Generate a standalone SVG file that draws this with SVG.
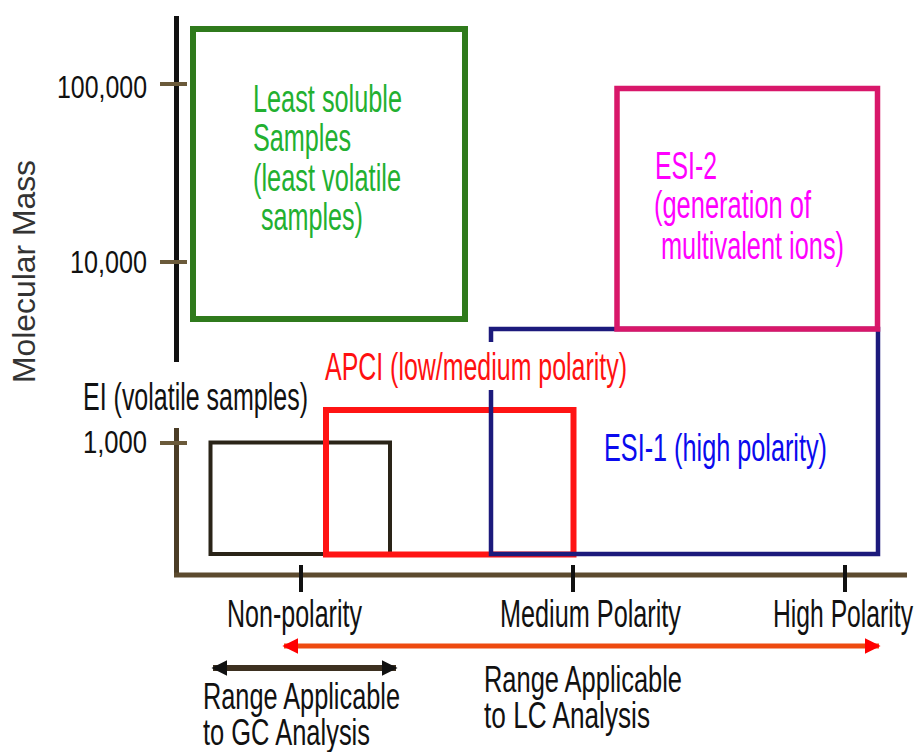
<svg xmlns="http://www.w3.org/2000/svg" width="920" height="752" viewBox="0 0 920 752">
<defs>
<style>
text{font-family:"Liberation Sans",Arial,sans-serif;font-size:38px}
.lbl{fill:#111}
.rng{font-size:36px;fill:#111}
.ax{font-size:31px;fill:#111}
.g{fill:#22b030}
.m{fill:#ff00ff}
.b{fill:#0a0aee}
.r{fill:#ff1010}
.box{fill:none}
</style>
<marker id="ahR" viewBox="0 0 10 10" refX="9" refY="5" markerWidth="3.2" markerHeight="3.6" orient="auto-start-reverse" markerUnits="strokeWidth">
<path d="M0,0 L10,5 L0,10 Z" fill="#ff0000"/>
</marker>
<marker id="ahK" viewBox="0 0 10 10" refX="9" refY="5" markerWidth="2.6" markerHeight="3" orient="auto-start-reverse" markerUnits="strokeWidth">
<path d="M0,0 L10,5 L0,10 Z" fill="#111"/>
</marker>
</defs>
<rect width="920" height="752" fill="#fff"/>

<g id="axes">
<line x1="176.5" y1="16" x2="176.5" y2="362" stroke="#111" stroke-width="5"/>
<line x1="176.5" y1="428" x2="176.5" y2="577" stroke="#4a3c26" stroke-width="5"/>
<line x1="174" y1="575" x2="907" y2="575" stroke="#5c4a2e" stroke-width="5"/>
<g stroke="#6b5a3a" stroke-width="4">
<line x1="160" y1="84" x2="187" y2="84"/>
<line x1="160" y1="262" x2="187" y2="262"/>
<line x1="160" y1="443" x2="187" y2="443"/>
</g>
<g stroke="#111" stroke-width="4">
<line x1="301" y1="565" x2="301" y2="592"/>
<line x1="573" y1="565" x2="573" y2="592"/>
<line x1="845" y1="565" x2="845" y2="592"/>
</g>
<text class="ax" x="57" y="98" textLength="90" lengthAdjust="spacingAndGlyphs">100,000</text>
<text class="ax" x="70" y="273" textLength="77" lengthAdjust="spacingAndGlyphs">10,000</text>
<text class="ax" x="83" y="453" textLength="64" lengthAdjust="spacingAndGlyphs">1,000</text>
<text x="35" y="383" transform="rotate(-90 35 383)" style="font-size:32px;fill:#333" textLength="223" lengthAdjust="spacingAndGlyphs">Molecular Mass</text>
<text class="lbl" x="227" y="627" textLength="135" lengthAdjust="spacingAndGlyphs">Non-polarity</text>
<text class="lbl" x="500" y="627" textLength="181" lengthAdjust="spacingAndGlyphs">Medium Polarity</text>
<text class="lbl" x="773" y="627" textLength="140" lengthAdjust="spacingAndGlyphs">High Polarity</text>
</g>

<g id="gc-box">
<rect class="box" x="193" y="29" width="272" height="290" stroke="#2f7a1c" stroke-width="6"/>
<text class="g" x="253" y="112" textLength="149" lengthAdjust="spacingAndGlyphs">Least soluble</text>
<text class="g" x="253" y="151" textLength="98" lengthAdjust="spacingAndGlyphs">Samples</text>
<text class="g" x="253" y="191" textLength="148" lengthAdjust="spacingAndGlyphs">(least volatile</text>
<text class="g" x="261" y="230" textLength="102" lengthAdjust="spacingAndGlyphs">samples)</text>
</g>

<g id="ei">
<rect class="box" x="210.5" y="442.5" width="179.5" height="111.5" stroke="#2a2418" stroke-width="4"/>
<text class="lbl" x="83" y="410" textLength="225" lengthAdjust="spacingAndGlyphs">EI (volatile samples)</text>
</g>

<g id="apci">
<rect class="box" x="326" y="410" width="247.5" height="144.5" stroke="#ff1414" stroke-width="6"/>
<text class="r" x="325" y="380" textLength="302" lengthAdjust="spacingAndGlyphs">APCI (low/medium polarity)</text>
</g>

<g id="esi1">
<path class="box" d="M491,342 V329 H878 V554 H491 V390" stroke="#1c1a7c" stroke-width="4.5"/>
<text class="b" x="604" y="461" textLength="223" lengthAdjust="spacingAndGlyphs">ESI-1 (high polarity)</text>
</g>

<g id="esi2">
<rect class="box" x="617" y="88.5" width="260.5" height="240.5" stroke="#d8176a" stroke-width="5.5"/>
<text class="m" x="655" y="179" textLength="62" lengthAdjust="spacingAndGlyphs">ESI-2</text>
<text class="m" x="654" y="218" textLength="157" lengthAdjust="spacingAndGlyphs">(generation of</text>
<text class="m" x="661" y="259" textLength="183" lengthAdjust="spacingAndGlyphs">multivalent ions)</text>
</g>

<g id="connectors">
<line x1="284" y1="646" x2="879" y2="646" stroke="#ee4a10" stroke-width="5" marker-start="url(#ahR)" marker-end="url(#ahR)"/>
<line x1="213" y1="668" x2="396" y2="668" stroke="#3d3020" stroke-width="6" marker-start="url(#ahK)" marker-end="url(#ahK)"/>
</g>

<g id="range-labels">
<text class="rng" x="203" y="709" textLength="197" lengthAdjust="spacingAndGlyphs">Range Applicable</text>
<text class="rng" x="203" y="745" textLength="167" lengthAdjust="spacingAndGlyphs">to GC Analysis</text>
<text class="rng" x="484" y="692" textLength="198" lengthAdjust="spacingAndGlyphs">Range Applicable</text>
<text class="rng" x="484" y="728" textLength="166" lengthAdjust="spacingAndGlyphs">to LC Analysis</text>
</g>
</svg>
